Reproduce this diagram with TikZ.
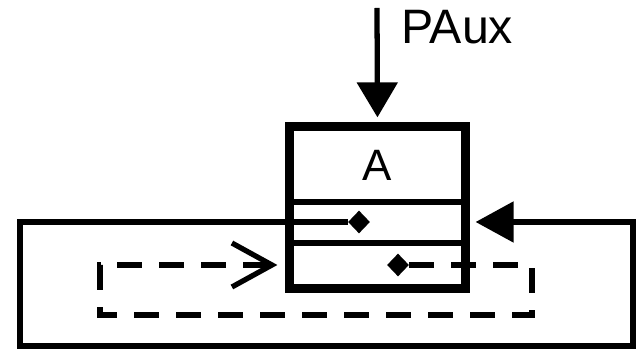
\documentclass[tikz,border=0pt]{standalone}
\usepackage{fontspec}
\setmainfont{Liberation Sans}
\usetikzlibrary{arrows.meta, shapes.geometric}

\begin{document}
\begin{tikzpicture}[
  x=0.02cm, y=-0.02cm,
  font=\fontsize{25}{30}\selectfont,
  cell/.style={draw, line width=3pt, minimum width=3.46cm, inner sep=0pt},
  frame/.style={draw, line width=4.2pt},
  dot/.style={diamond, fill=black, inner sep=0pt, minimum width=0.44cm, minimum height=0.46cm},
  ar/.style={line width=3pt},
  loop/.style={ar, dash pattern=on 0.5cm off 0.34cm}]
\useasboundingbox (0,0) rectangle (642,350);

\node[cell, minimum height=1.48cm] (hdr) at (377.5,165) {A};
\node[cell, minimum height=0.82cm] (mid) at (377.5,222) {};
\node[cell, minimum height=0.88cm] (low) at (377.5,265) {};
\draw[frame] (hdr.north west) rectangle (low.south east);

\node[dot] (d1) at (359,222) {};
\node[dot] (d2) at (398,265) {};

\coordinate (src) at (377,8);
\node[anchor=base west, font=\fontsize{27.5}{32}\selectfont] (paux) at (395,44) {PAux};

% outer loop
\coordinate (o1) at (20,222);
\coordinate (o2) at (20,346);
\coordinate (o3) at (633,346);
\coordinate (o4) at (633,222);
% dashed loop
\coordinate (q1) at (532,265);
\coordinate (q2) at (532,315);
\coordinate (q3) at (100,315);
\coordinate (q4) at (100,265);

\draw[ar, -{Triangle[length=0.7cm, width=0.8cm]}, shorten >=0.16cm] (src) -- (hdr.north);
\draw[ar, -{Triangle[length=0.76cm, width=0.8cm]}, shorten >=0.18cm]
  (d1) -- (o1) -- (o2) -- (o3) -- (o4) -- (mid.east);
\draw[loop, -{Straight Barb[length=0.8cm, width=0.88cm]}, shorten >=0.22cm]
  (d2) -- (q1) -- (q2) -- (q3) -- (q4) -- (low.west);
\end{tikzpicture}
\end{document}
